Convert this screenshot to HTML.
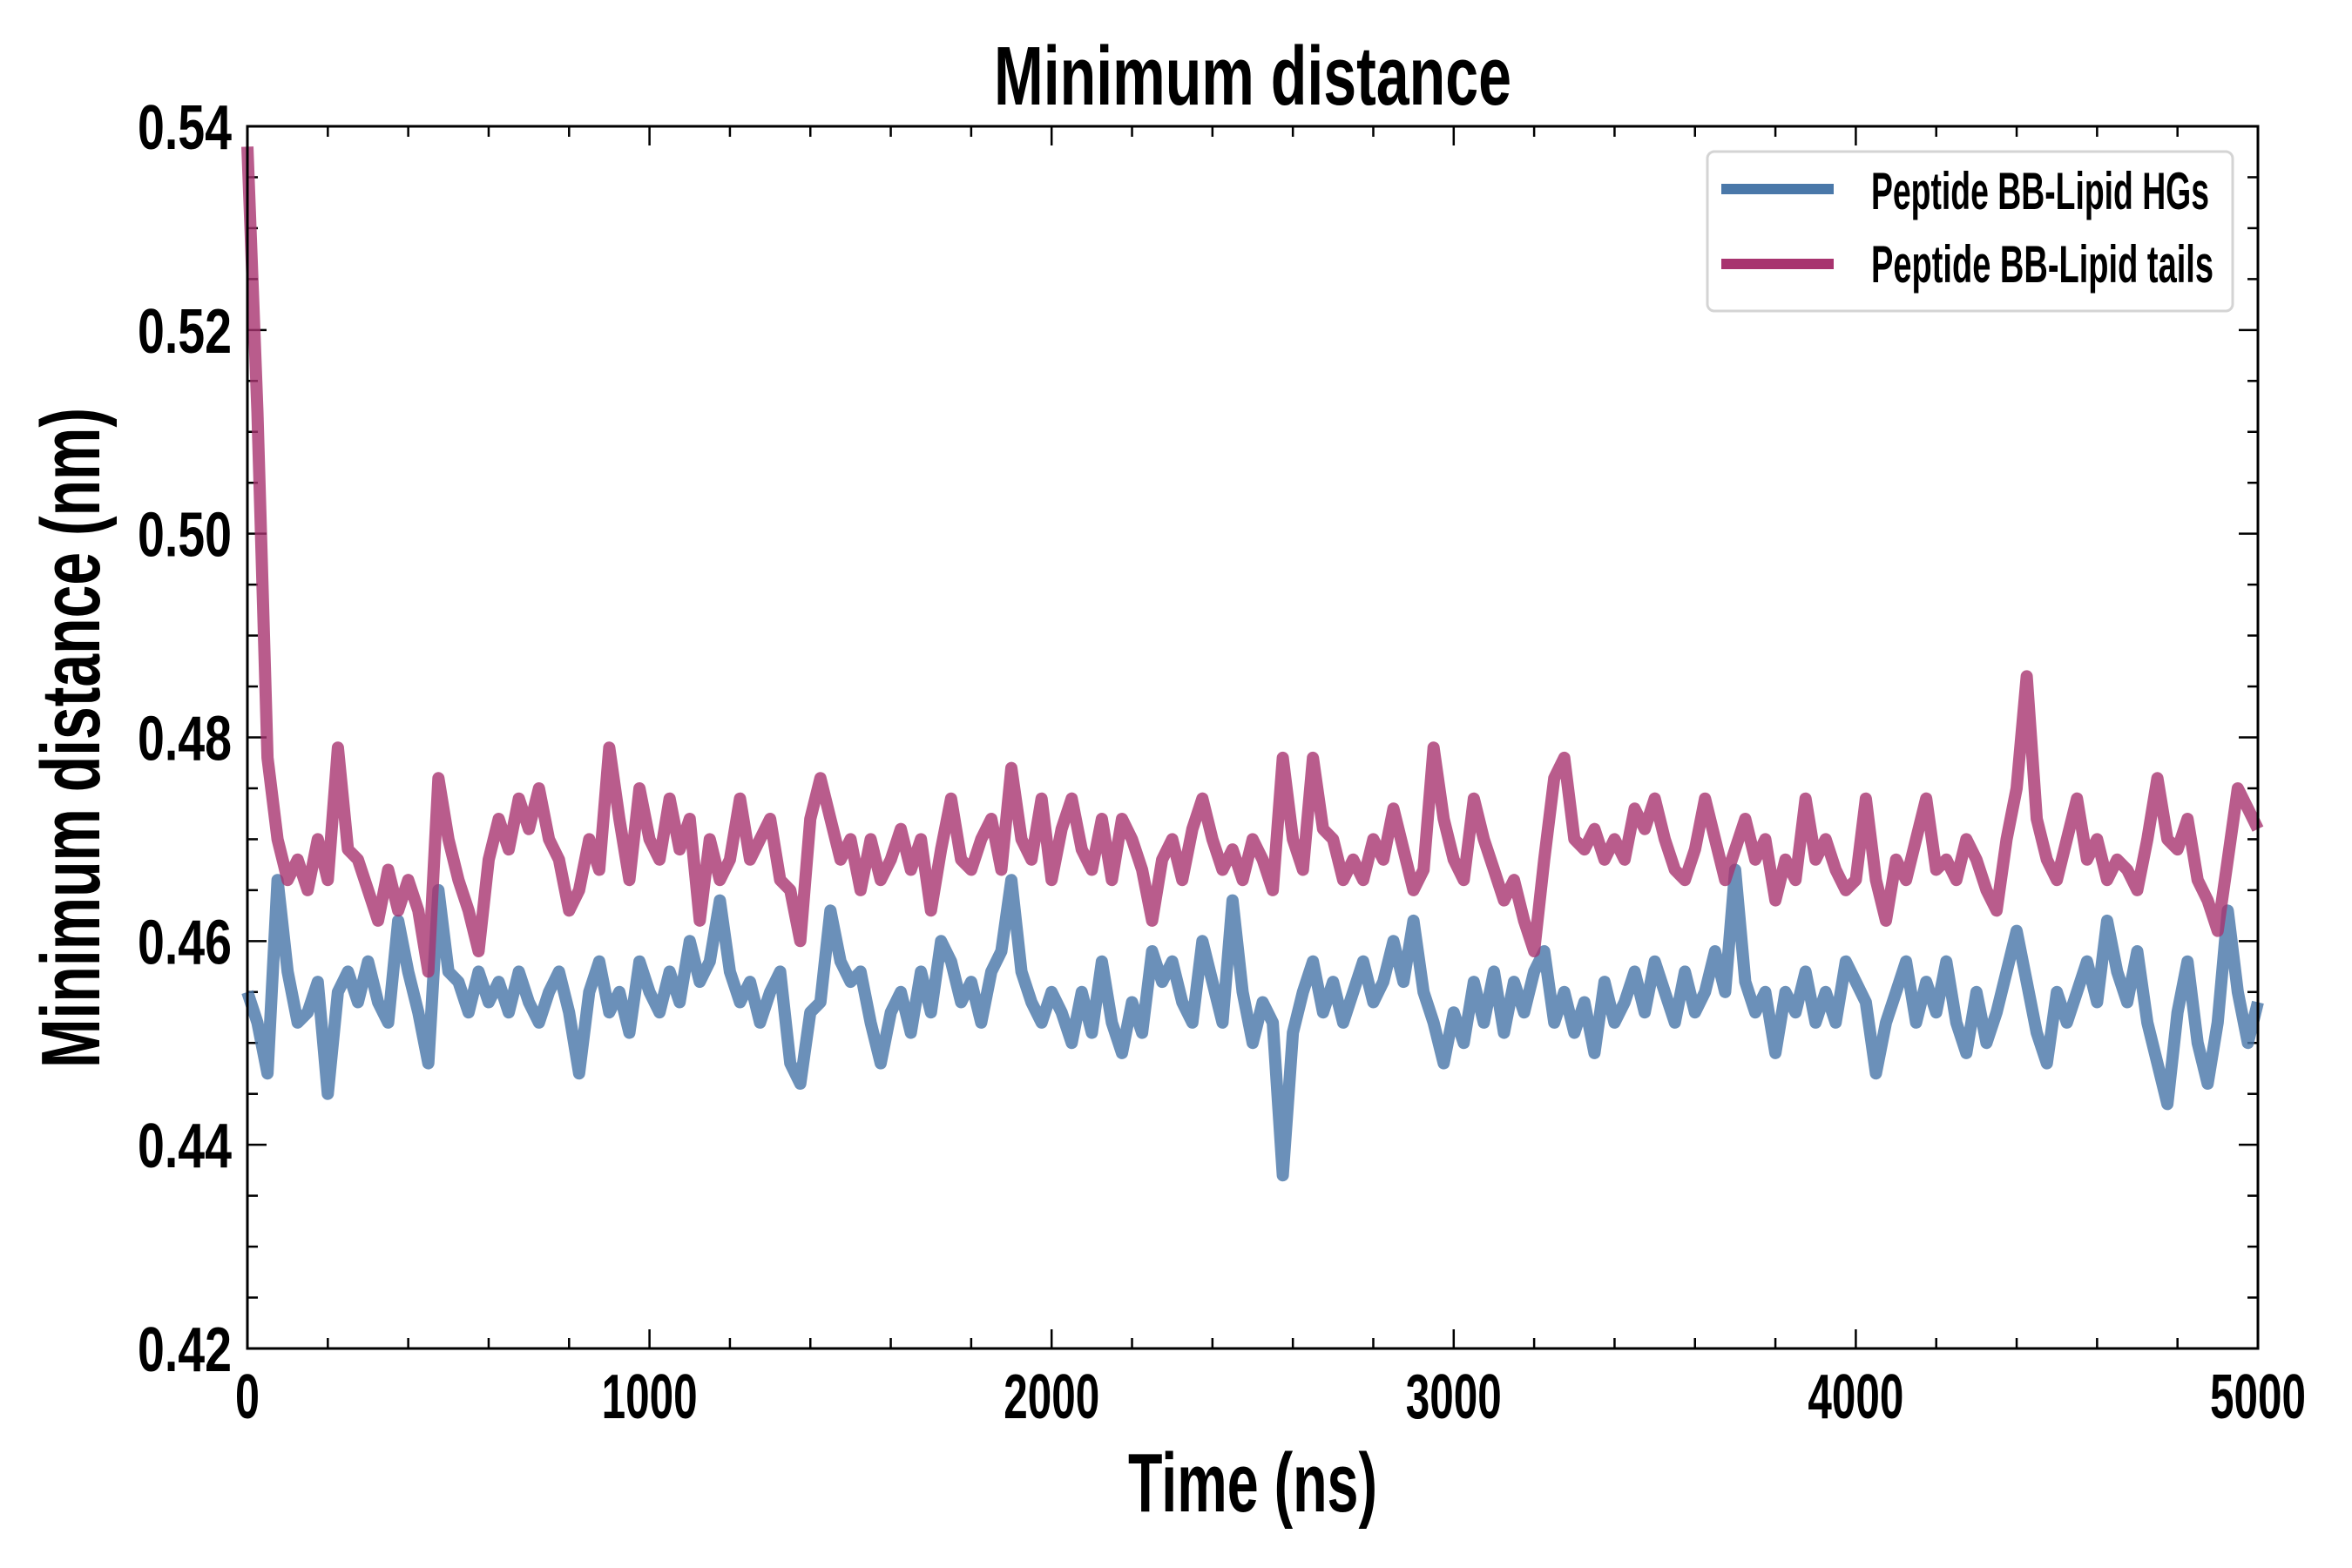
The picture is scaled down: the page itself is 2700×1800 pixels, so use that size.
<!DOCTYPE html>
<html><head><meta charset="utf-8"><style>
html,body{margin:0;padding:0;background:#fff;}
svg{display:block;}
text{font-family:"Liberation Sans Narrow","Liberation Sans",sans-serif;font-weight:bold;fill:#000;}
</style></head><body>
<svg id="chart" width="2700" height="1800" viewBox="0 0 2700 1800" xmlns="http://www.w3.org/2000/svg">
<rect x="0" y="0" width="2700" height="1800" fill="#fff"/>
<g id="ticks"></g>
<g id="series"></g>
<rect x="284" y="145" width="2308" height="1403" fill="none" stroke="#000" stroke-width="3"/>
<text x="1438" y="120" text-anchor="middle" font-size="96" textLength="594" lengthAdjust="spacingAndGlyphs">Minimum distance</text>
<text x="1438" y="1735" text-anchor="middle" font-size="96" textLength="286" lengthAdjust="spacingAndGlyphs">Time (ns)</text>
<text transform="translate(114,847) rotate(-90)" text-anchor="middle" font-size="96" textLength="758" lengthAdjust="spacingAndGlyphs">Minimum distance (nm)</text>
<g>
<rect x="1960" y="174" width="603" height="183" rx="8" fill="#fff" fill-opacity="0.85" stroke="#d4d4d4" stroke-width="3"/>
<line x1="1976" y1="217" x2="2105" y2="217" stroke="#4a78a9" stroke-width="12"/>
<text x="2148" y="240" font-size="60" textLength="388" lengthAdjust="spacingAndGlyphs">Peptide BB-Lipid HGs</text>
<line x1="1976" y1="303" x2="2105" y2="303" stroke="#a8336f" stroke-width="12"/>
<text x="2148" y="324" font-size="60" textLength="393" lengthAdjust="spacingAndGlyphs">Peptide BB-Lipid tails</text>
</g>
</svg>
<script>
const xTickLabels = ["0","1000","2000","3000","4000","5000"];
const yTickLabels = ["0.42","0.44","0.46","0.48","0.50","0.52","0.54"];
const tailsValues = [0.538,0.512,0.478,0.470,0.466,0.468,0.465,0.470,0.466,0.479,0.469,0.468,0.465,0.462,0.467,0.463,0.466,0.463,0.457,0.476,0.470,0.466,0.463,0.459,0.468,0.472,0.469,0.474,0.471,0.475,0.470,0.468,0.463,0.465,0.470,0.467,0.479,0.472,0.466,0.475,0.470,0.468,0.474,0.469,0.472,0.462,0.470,0.466,0.468,0.474,0.468,0.470,0.472,0.466,0.465,0.460,0.472,0.476,0.472,0.468,0.470,0.465,0.470,0.466,0.468,0.471,0.467,0.470,0.463,0.469,0.474,0.468,0.467,0.470,0.472,0.467,0.477,0.470,0.468,0.474,0.466,0.471,0.474,0.469,0.467,0.472,0.466,0.472,0.470,0.467,0.462,0.468,0.470,0.466,0.471,0.474,0.470,0.467,0.469,0.466,0.470,0.468,0.465,0.478,0.470,0.467,0.478,0.471,0.470,0.466,0.468,0.466,0.470,0.468,0.473,0.469,0.465,0.467,0.479,0.472,0.468,0.466,0.474,0.470,0.467,0.464,0.466,0.462,0.459,0.468,0.476,0.478,0.470,0.469,0.471,0.468,0.470,0.468,0.473,0.471,0.474,0.470,0.467,0.466,0.469,0.474,0.470,0.466,0.469,0.472,0.468,0.470,0.464,0.468,0.466,0.474,0.468,0.470,0.467,0.465,0.466,0.474,0.466,0.462,0.468,0.466,0.470,0.474,0.467,0.468,0.466,0.470,0.468,0.465,0.463,0.470,0.475,0.486,0.472,0.468,0.466,0.470,0.474,0.468,0.470,0.466,0.468,0.467,0.465,0.470,0.476,0.470,0.469,0.472,0.466,0.464,0.461,0.468,0.475,0.473,0.471];
const hgsValues = [0.455,0.452,0.447,0.466,0.457,0.452,0.453,0.456,0.445,0.455,0.457,0.454,0.458,0.454,0.452,0.462,0.457,0.453,0.448,0.465,0.457,0.456,0.453,0.457,0.454,0.456,0.453,0.457,0.454,0.452,0.455,0.457,0.453,0.447,0.455,0.458,0.453,0.455,0.451,0.458,0.455,0.453,0.457,0.454,0.460,0.456,0.458,0.464,0.457,0.454,0.456,0.452,0.455,0.457,0.448,0.446,0.453,0.454,0.463,0.458,0.456,0.457,0.452,0.448,0.453,0.455,0.451,0.457,0.453,0.460,0.458,0.454,0.456,0.452,0.457,0.459,0.466,0.457,0.454,0.452,0.455,0.453,0.450,0.455,0.451,0.458,0.452,0.449,0.454,0.451,0.459,0.456,0.458,0.454,0.452,0.460,0.456,0.452,0.464,0.455,0.450,0.454,0.452,0.437,0.451,0.455,0.458,0.453,0.456,0.452,0.455,0.458,0.454,0.456,0.460,0.456,0.462,0.455,0.452,0.448,0.453,0.450,0.456,0.452,0.457,0.451,0.456,0.453,0.457,0.459,0.452,0.455,0.451,0.454,0.449,0.456,0.452,0.454,0.457,0.453,0.458,0.455,0.452,0.457,0.453,0.455,0.459,0.455,0.467,0.456,0.453,0.455,0.449,0.455,0.453,0.457,0.452,0.455,0.452,0.458,0.456,0.454,0.447,0.452,0.455,0.458,0.452,0.456,0.453,0.458,0.452,0.449,0.455,0.450,0.453,0.457,0.461,0.456,0.451,0.448,0.455,0.452,0.455,0.458,0.454,0.462,0.457,0.454,0.459,0.452,0.448,0.444,0.453,0.458,0.450,0.446,0.452,0.463,0.455,0.450,0.454];

const NS="http://www.w3.org/2000/svg";
const L=284,R=2592,T=145,B=1548;
const X0=0,X1=5000,Y0=0.42,Y1=0.54;
function xs(v){return L+(v-X0)/(X1-X0)*(R-L);}
function ys(v){return B-(v-Y0)/(Y1-Y0)*(B-T);}
function mk(tag,attrs){const e=document.createElementNS(NS,tag);for(const k in attrs)e.setAttribute(k,attrs[k]);return e;}

const tg=document.getElementById('ticks');
for(let v=0;v<=5000;v+=200){
  const major=v%1000===0, len=major?22:12, x=xs(v);
  const t1=mk('line',{x1:x,y1:B,x2:x,y2:B-len,stroke:'#000','stroke-width':2.5});
  
  
  tg.appendChild(t1);
  const t2=mk('line',{x1:x,y1:T,x2:x,y2:T+len,stroke:'#000','stroke-width':2.5});
  
  
  tg.appendChild(t2);
}
xTickLabels.forEach((lab,i)=>{
  const t=mk('text',{x:xs(i*1000),y:1628,'text-anchor':'middle','font-size':72,textLength:lab.length>1?110:28,lengthAdjust:'spacingAndGlyphs'});
  t.textContent=lab;
  
  
  tg.appendChild(t);
});
for(let i=0;i<=24;i++){
  const v=Y0+i*0.005, major=i%4===0, len=major?22:12, y=ys(v);
  const t1=mk('line',{x1:L,y1:y,x2:L+len,y2:y,stroke:'#000','stroke-width':2.5});
  
  
  tg.appendChild(t1);
  const t2=mk('line',{x1:R,y1:y,x2:R-len,y2:y,stroke:'#000','stroke-width':2.5});
  
  
  tg.appendChild(t2);
}
yTickLabels.forEach((lab,i)=>{
  const v=Y0+i*0.02;
  const t=mk('text',{x:266,y:ys(v)+26,'text-anchor':'end','font-size':72,textLength:108,lengthAdjust:'spacingAndGlyphs'});
  t.textContent=lab;
  
  
  tg.appendChild(t);
});
const sg=document.getElementById('series');
function pathFor(vals){
  const step=(X1-X0)/(vals.length-1);
  return vals.map((v,i)=>(i?'L':'M')+xs(i*step).toFixed(1)+','+ys(v).toFixed(1)).join('');
}
const p1=mk('path',{d:pathFor(hgsValues),fill:'none',stroke:'#4a78a9','stroke-opacity':0.82,'stroke-width':14,'stroke-linejoin':'round'});


sg.appendChild(p1);
const p2=mk('path',{d:pathFor(tailsValues),fill:'none',stroke:'#a8336f','stroke-opacity':0.8,'stroke-width':14,'stroke-linejoin':'round'});


sg.appendChild(p2);
</script>
</body></html>
